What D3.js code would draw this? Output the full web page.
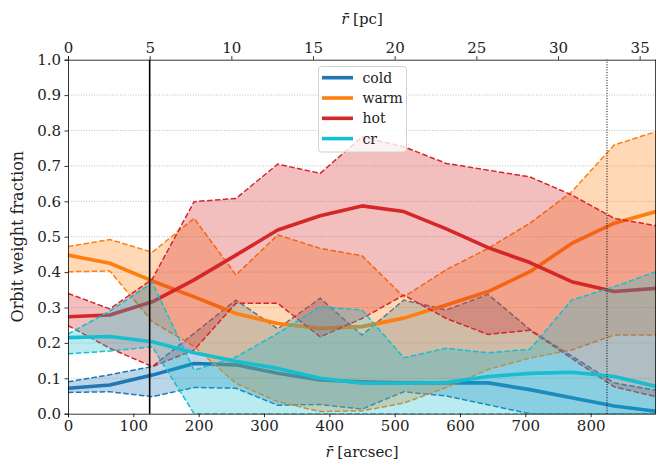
<!DOCTYPE html>
<html>
<head>
<meta charset="utf-8">
<script src="https://cdn.jsdelivr.net/npm/d3@7"></script>
<style>
  html, body { margin: 0; padding: 0; background: #fff; }
  svg { display: block; }
  text { font-family: "DejaVu Serif", serif; }
</style>
</head>
<body>
<svg id="chart" width="656" height="464"></svg>
<script>
// ---- data ----
const radius = [0, 64, 129, 193, 257, 321, 386, 450, 514, 579, 643, 707, 771, 836, 900]; // arcsec

const coldMean  = [0.072, 0.081, 0.109, 0.142, 0.138, 0.114, 0.095, 0.090, 0.087, 0.087, 0.087, 0.068, 0.045, 0.022, 0.007];
const coldUpper = [0.090, 0.110, 0.133, 0.227, 0.321, 0.240, 0.326, 0.222, 0.321, 0.293, 0.337, 0.238, 0.163, 0.087, 0.066];
const coldLower = [0.060, 0.062, 0.048, 0.074, 0.072, 0.024, 0.026, 0.013, 0.062, 0.050, 0.025, 0.000, 0.000, 0.000, 0.000];

const warmMean  = [0.448, 0.425, 0.375, 0.330, 0.283, 0.255, 0.241, 0.246, 0.270, 0.307, 0.345, 0.401, 0.481, 0.538, 0.571];
const warmUpper = [0.472, 0.492, 0.456, 0.552, 0.392, 0.505, 0.467, 0.446, 0.330, 0.407, 0.467, 0.538, 0.627, 0.759, 0.797];
const warmLower = [0.401, 0.403, 0.260, 0.190, 0.086, 0.034, 0.006, 0.008, 0.030, 0.074, 0.125, 0.157, 0.180, 0.222, 0.222];

const hotMean   = [0.274, 0.279, 0.316, 0.378, 0.448, 0.519, 0.559, 0.587, 0.571, 0.522, 0.469, 0.427, 0.373, 0.345, 0.354];
const hotUpper  = [0.340, 0.296, 0.380, 0.599, 0.608, 0.705, 0.679, 0.782, 0.754, 0.707, 0.688, 0.669, 0.618, 0.552, 0.531];
const hotLower  = [0.249, 0.185, 0.133, 0.180, 0.312, 0.312, 0.217, 0.269, 0.335, 0.269, 0.224, 0.236, 0.156, 0.076, 0.048];

const crMean    = [0.215, 0.218, 0.203, 0.172, 0.148, 0.128, 0.100, 0.086, 0.086, 0.088, 0.105, 0.114, 0.117, 0.105, 0.077];
const crUpper   = [0.225, 0.290, 0.370, 0.123, 0.160, 0.227, 0.302, 0.293, 0.158, 0.185, 0.172, 0.182, 0.321, 0.359, 0.401];
const crLower   = [0.169, 0.177, 0.189, 0.000, 0.000, 0.000, 0.000, 0.000, 0.000, 0.000, 0.000, 0.000, 0.000, 0.000, 0.000];

const seriesNames  = ["cold", "warm", "hot", "cr"];
const seriesColors = ["#1f77b4", "#ff7f0e", "#d62728", "#17becf"];

const xTicksArcsec = [0, 100, 200, 300, 400, 500, 600, 700, 800];
const xTicksPc     = [0, 5, 10, 15, 20, 25, 30, 35];
const yTicks       = [0.0, 0.1, 0.2, 0.3, 0.4, 0.5, 0.6, 0.7, 0.8, 0.9, 1.0];
const arcsecPerPc  = 25;
const innerLineArcsec = 125;   // solid vertical line (5 pc)
const outerLineArcsec = 825;   // dotted vertical line (33 pc)

// ---- layout ----
const margin = { left: 68, right: 0, top: 59.7, bottom: 50.3 };
const W = 656, H = 464;
const svg = d3.select("#chart");
const g = svg.append("g");

const x = d3.scaleLinear().domain([0, 900]).range([margin.left, W - margin.right]);
const xPc = d3.scaleLinear().domain([0, 900 / arcsecPerPc]).range([margin.left, W - margin.right]);
const y = d3.scaleLinear().domain([0, 1]).range([H - margin.bottom, margin.top]);

// grid
g.append("g").selectAll("line").data(yTicks.filter(v => v > 0 && v < 1)).join("line")
  .attr("x1", x.range()[0]).attr("x2", x.range()[1])
  .attr("y1", d => y(d)).attr("y2", d => y(d))
  .attr("stroke", "#b0b0b0").attr("stroke-width", 0.8).attr("stroke-dasharray", "1,1.6");

svg.append("defs").append("clipPath").attr("id", "clip")
  .append("rect").attr("x", x.range()[0]).attr("y", y(1))
  .attr("width", x.range()[1] - x.range()[0]).attr("height", y(0) - y(1));

const plot = g.append("g").attr("clip-path", "url(#clip)");

const series = [
  { mean: coldMean, upper: coldUpper, lower: coldLower },
  { mean: warmMean, upper: warmUpper, lower: warmLower },
  { mean: hotMean,  upper: hotUpper,  lower: hotLower },
  { mean: crMean,   upper: crUpper,   lower: crLower }
];

const area = d3.area().x(d => x(d.r)).y0(d => y(d.lo)).y1(d => y(d.hi));
const line = d3.line().x(d => x(d.r)).y(d => y(d.v));

series.forEach((s, k) => {
  const col = seriesColors[k];
  const pts = radius.map((r, i) => ({ r, lo: s.lower[i], hi: s.upper[i] }));
  plot.append("path").datum(pts).attr("d", area)
    .attr("fill", col).attr("fill-opacity", 0.3).attr("stroke", "none");
  plot.append("path").datum(radius.map((r, i) => ({ r, v: s.mean[i] }))).attr("d", line)
    .attr("fill", "none").attr("stroke", col).attr("stroke-width", 3.6).attr("stroke-linejoin", "round");
  [s.lower, s.upper].forEach(arr => {
    plot.append("path").datum(radius.map((r, i) => ({ r, v: arr[i] }))).attr("d", line)
      .attr("fill", "none").attr("stroke", col).attr("stroke-width", 1.5)
      .attr("stroke-dasharray", "5.5,2.4");
  });
});

// vertical reference lines
g.append("line").attr("x1", x(innerLineArcsec)).attr("x2", x(innerLineArcsec))
  .attr("y1", y(0)).attr("y2", y(1)).attr("stroke", "#000").attr("stroke-width", 1.6);
g.append("line").attr("x1", x(outerLineArcsec)).attr("x2", x(outerLineArcsec))
  .attr("y1", y(0)).attr("y2", y(1)).attr("stroke", "#000").attr("stroke-width", 1)
  .attr("stroke-dasharray", "1,1.6");

// axes
const fs = 15;
const axB = g.append("g").attr("transform", `translate(0,${y(0)})`)
  .call(d3.axisBottom(x).tickValues(xTicksArcsec).tickFormat(d3.format("d")).tickSizeOuter(0).tickSize(3.5).tickPadding(3.5));
const axT = g.append("g").attr("transform", `translate(0,${y(1)})`)
  .call(d3.axisTop(xPc).tickValues(xTicksPc).tickFormat(d3.format("d")).tickSizeOuter(0).tickSize(3.5).tickPadding(3.5));
const axL = g.append("g").attr("transform", `translate(${x(0)},0)`)
  .call(d3.axisLeft(y).tickValues(yTicks).tickFormat(d3.format(".1f")).tickSizeOuter(0).tickSize(3.5).tickPadding(3.5));
[axB, axT, axL].forEach(a => {
  a.selectAll("text").attr("font-family", "DejaVu Serif").attr("font-size", fs).attr("fill", "#222");
  a.selectAll("line").attr("stroke", "#000").attr("stroke-width", 0.8);
  a.select(".domain").attr("stroke", "#000").attr("stroke-width", 0.8);
});
// right spine
g.append("line").attr("x1", x(900) - 0.4).attr("x2", x(900) - 0.4).attr("y1", y(0)).attr("y2", y(1))
  .attr("stroke", "#000").attr("stroke-width", 0.8);

// axis labels
const cx = (x.range()[0] + x.range()[1]) / 2;
function rbarLabel(sel, rest) {
  sel.append("tspan").attr("font-style", "italic").text("r\u0304");
  sel.append("tspan").text(" " + rest);
}
const xl = g.append("text").attr("x", cx).attr("y", 457).attr("text-anchor", "middle")
  .attr("font-size", 15).attr("fill", "#222");
rbarLabel(xl, "[arcsec]");
const tl = g.append("text").attr("x", cx).attr("y", 24).attr("text-anchor", "middle")
  .attr("font-size", 15).attr("fill", "#222");
rbarLabel(tl, "[pc]");
g.append("text").attr("transform", `translate(23,${(y(0) + y(1)) / 2}) rotate(-90)`)
  .attr("text-anchor", "middle").attr("font-size", 16).attr("fill", "#222")
  .text("Orbit weight fraction");

// legend
const lg = g.append("g");
lg.append("rect").attr("x", 318.5).attr("y", 66.5).attr("width", 88).attr("height", 85.5)
  .attr("rx", 3).attr("fill", "#fff").attr("fill-opacity", 0.8)
  .attr("stroke", "#d0d0d0").attr("stroke-width", 1);
seriesNames.forEach((n, k) => {
  const yy = 77.7 + k * 20.3;
  lg.append("line").attr("x1", 322).attr("x2", 353).attr("y1", yy).attr("y2", yy)
    .attr("stroke", seriesColors[k]).attr("stroke-width", 3.6);
  lg.append("text").attr("x", 362.5).attr("y", yy + 5).attr("font-size", 14).attr("fill", "#222").text(n);
});
</script>
</body>
</html>
